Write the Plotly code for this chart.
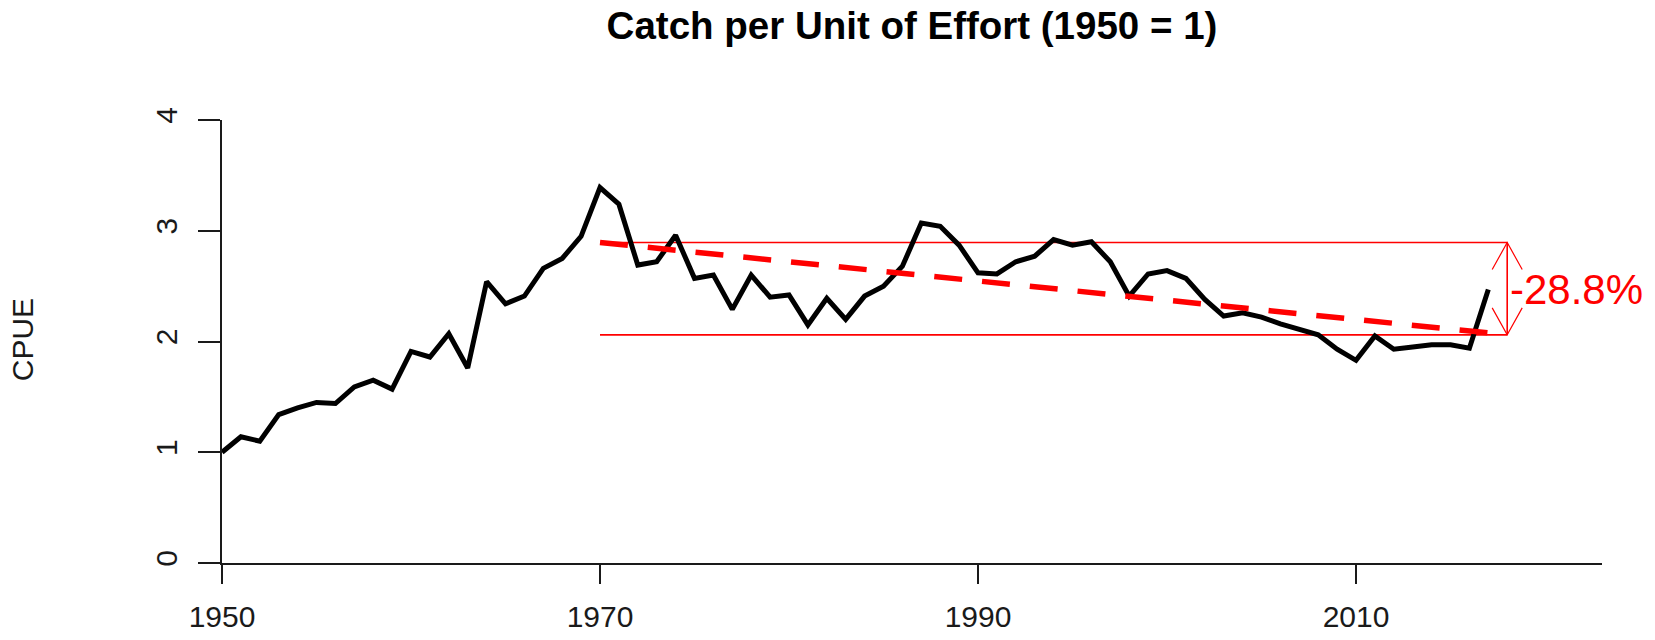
import plotly.graph_objects as go

# ---- data ----
years = list(range(1950, 2018))
cpue = [1.00, 1.14, 1.10, 1.34, 1.40, 1.45, 1.44, 1.59, 1.65, 1.57,
        1.91, 1.86, 2.07, 1.76, 2.54, 2.34, 2.41, 2.66, 2.75, 2.95,
        3.39, 3.24, 2.69, 2.72, 2.96, 2.57, 2.60, 2.29, 2.60, 2.40,
        2.42, 2.15, 2.39, 2.20, 2.41, 2.50, 2.68, 3.07, 3.04, 2.87,
        2.62, 2.61, 2.72, 2.77, 2.92, 2.87, 2.90, 2.72, 2.41, 2.61,
        2.64, 2.57, 2.38, 2.23, 2.26, 2.22, 2.16, 2.11, 2.06, 1.93,
        1.83, 2.05, 1.93, 1.95, 1.97, 1.97, 1.94, 2.47]
fit_years = [1970, 2018]
fit_values = [2.894, 2.060]
x_ticks = [1950, 1970, 1990, 2010]
y_ticks = [0, 1, 2, 3, 4]
title_text = "Catch per Unit of Effort (1950 = 1)"
y_title = "CPUE"

pct = (fit_values[1] / fit_values[0] - 1) * 100
pct_label = f"{pct:.1f}%"

FONT = "Liberation Sans, Arial, sans-serif"
RED = "#ff0000"
AX = "#1a1a1a"

ML, MR, MT, MB = 222, 53, 120, 77
PW = 1655 - ML - MR

fig = go.Figure()

# horizontal reference lines at fit start / end values
for v in fit_values:
    fig.add_trace(go.Scatter(x=fit_years, y=[v, v], mode="lines",
                             line=dict(color=RED, width=1.6),
                             hoverinfo="skip", showlegend=False))

# data line
fig.add_trace(go.Scatter(x=years, y=cpue, mode="lines",
                         line=dict(color="black", width=5),
                         showlegend=False))

# dashed trend line
fig.add_trace(go.Scatter(x=fit_years, y=fit_values, mode="lines",
                         line=dict(color=RED, width=5.5, dash="28px,20px"),
                         hoverinfo="skip", showlegend=False))

# vertical double arrow at the end year
fig.add_trace(go.Scatter(x=[fit_years[1], fit_years[1]], y=fit_values, mode="lines",
                         line=dict(color=RED, width=1.6),
                         hoverinfo="skip", showlegend=False))
# open arrow heads (pixel-sized)
fig.add_shape(type="path", xref="x", yref="y",
              xsizemode="pixel", ysizemode="pixel",
              xanchor=fit_years[1], yanchor=fit_values[0],
              path="M -15,-27 L 0,0 L 15,-27",
              line=dict(color=RED, width=1.2))
fig.add_shape(type="path", xref="x", yref="y",
              xsizemode="pixel", ysizemode="pixel",
              xanchor=fit_years[1], yanchor=fit_values[1],
              path="M -15,27 L 0,0 L 15,27",
              line=dict(color=RED, width=1.2))

# percent label
fig.add_annotation(x=fit_years[1], y=(fit_values[0] + fit_values[1]) / 2,
                   xref="x", yref="y", text=pct_label, showarrow=False,
                   xanchor="left", yanchor="middle", xshift=1, yshift=-1,
                   font=dict(family=FONT, size=42, color=RED))

# y axis title
fig.add_annotation(x=-(222 - 22.5) / PW, y=0.504, xref="paper", yref="paper",
                   text=y_title, showarrow=False, textangle=-90,
                   xanchor="center", yanchor="middle",
                   font=dict(family=FONT, size=30, color=AX))

# extend x-axis line left to the y tick length
fig.add_shape(type="line", xref="paper", yref="paper",
              x0=-22 / PW, x1=0, y0=0, y1=0,
              line=dict(color=AX, width=2))

fig.update_layout(
    width=1655, height=640,
    margin=dict(l=ML, r=MR, t=MT, b=MB, autoexpand=False),
    paper_bgcolor="white", plot_bgcolor="white",
    title=dict(text=title_text, x=(ML + PW / 2) / 1655, xanchor="center",
               y=1 - 25.5 / 640, yanchor="middle", yref="container", automargin=False,
               font=dict(family=FONT, size=38.5, color="black", weight="bold")),
    xaxis=dict(range=[1950, 1950 + PW / 18.9], tickvals=x_ticks, automargin=False,
               showgrid=False, zeroline=False, showline=True,
               linecolor=AX, linewidth=2, ticks="outside", ticklen=19,
               tickwidth=2, tickcolor=AX, ticklabelstandoff=7,
               tickfont=dict(family=FONT, size=30, color=AX)),
    yaxis=dict(range=[0, 4], tickvals=y_ticks, automargin=False,
               showgrid=False, zeroline=False, showline=True,
               linecolor=AX, linewidth=2, ticks="outside", ticklen=22,
               tickwidth=2, tickcolor=AX, tickangle=-90, ticklabelstandoff=9,
               tickfont=dict(family=FONT, size=30, color=AX)),
)

fig.write_html("out.html", config={"displayModeBar": False},
               post_script="document.body.style.margin='0';document.body.style.overflow='hidden';")
